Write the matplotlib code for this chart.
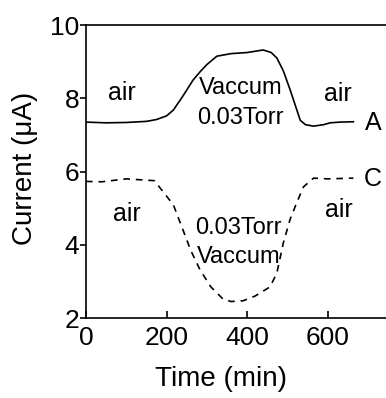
"""
Current vs time for samples A and C under air / vacuum cycling
"""

from matplotlib import pyplot as plt

plt.rcParams['font.family'] = ['Liberation Sans', 'DejaVu Sans']

# sample A (solid)
time_a = [0, 50, 100, 150, 175, 200, 217, 240, 266, 283, 300, 325, 360, 400, 440, 460, 474, 490, 507, 520, 532, 545, 565, 590, 606, 630, 664]
current_a = [7.35, 7.33, 7.34, 7.37, 7.42, 7.52, 7.68, 8.05, 8.5, 8.72, 8.92, 9.15, 9.22, 9.25, 9.32, 9.25, 9.1, 8.75, 8.23, 7.8, 7.4, 7.28, 7.24, 7.28, 7.33, 7.35, 7.36]

# sample C (dashed)
time_c = [0, 40, 100, 170, 192, 217, 241, 260, 283, 310, 340, 360, 390, 420, 457, 474, 490, 507, 523, 540, 565, 600, 664]
current_c = [5.73, 5.72, 5.8, 5.75, 5.44, 5.09, 4.4, 3.85, 3.32, 2.85, 2.52, 2.45, 2.47, 2.6, 2.85, 3.23, 4.05, 4.7, 5.14, 5.58, 5.82, 5.8, 5.82]

x_ticks = [0, 200, 400, 600]
y_ticks = [2, 4, 6, 8, 10]

fig = plt.figure(figsize=(3.86, 3.98), dpi=100)
ax = fig.add_axes([0.2228, 0.201, 0.7772, 0.736])

ax.plot(time_a, current_a, color='black', linewidth=1.2)
ax.plot(time_c, current_c, color='black', linewidth=1.2, linestyle=(0, (4, 3.5)))

ax.set_xlim(0, 745)
ax.set_ylim(2, 10)
ax.set_xticks(x_ticks)
ax.set_yticks(y_ticks)

for side in ['left', 'bottom', 'top']:
    ax.spines[side].set_linewidth(1.2)
ax.spines['right'].set_visible(False)

ax.tick_params(axis='x', direction='in', length=5, width=1.2, labelsize=19, pad=6)
ax.tick_params(axis='y', direction='out', length=4, width=1.2, labelsize=19, pad=1)

ax.set_xlabel("Time (min)", fontsize=20)
ax.set_ylabel("Current (\u03bcA)", fontsize=20)
ax.xaxis.set_label_coords(0.45, -0.165)
ax.yaxis.set_label_coords(-0.16, 0.51)

txt = dict(fontsize=18, ha='center', va='center')
small = dict(fontsize=17, ha='center', va='center')
ax.text(90, 8.15, "air", **txt)
ax.text(383, 8.27, "Vaccum", **small)
ax.text(383, 7.47, "0.03Torr", **small)
ax.text(626, 8.12, "air", **txt)
ax.text(713, 7.33, "A", **txt)
ax.text(713, 5.8, "C", **txt)
ax.text(102, 4.84, "air", **txt)
ax.text(378, 4.46, "0.03Torr", **small)
ax.text(378, 3.67, "Vaccum", **small)
ax.text(629, 4.95, "air", **txt)

plt.savefig("out.png", dpi=100)
plt.close()
